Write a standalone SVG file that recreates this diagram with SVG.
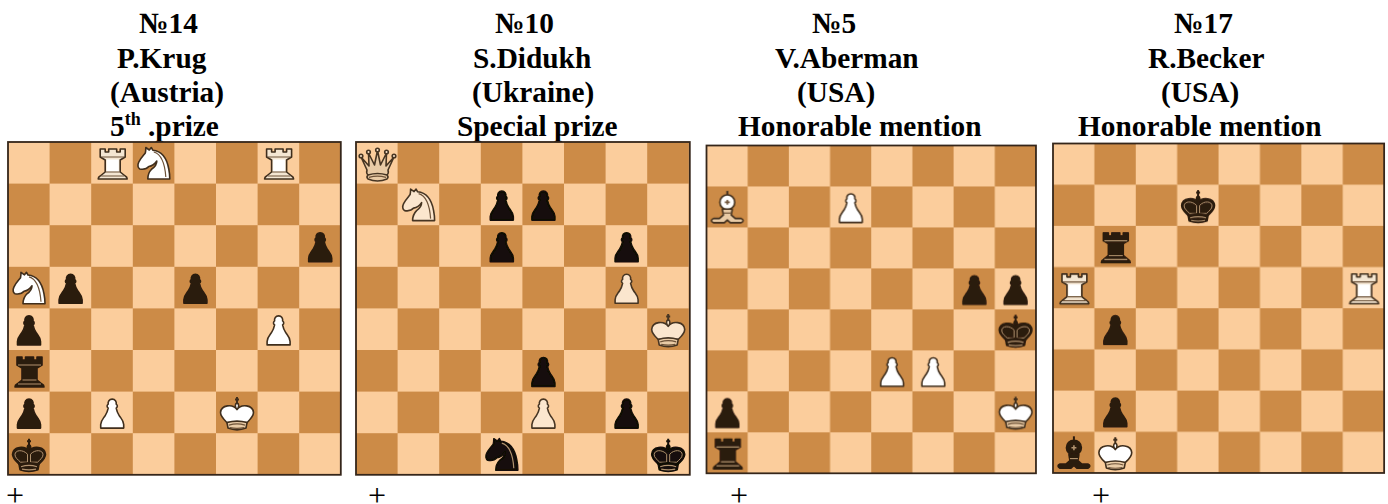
<svg xmlns="http://www.w3.org/2000/svg" width="1388" height="504" viewBox="0 0 1388 504">
<style>
.h{font-family:"Liberation Serif","Times New Roman",serif;font-weight:bold;font-size:29.33px;fill:#000}
.s{font-size:18px}
.plus{font-family:"Liberation Serif","Times New Roman",serif;font-size:32px;fill:#000}
.edge{fill:none;stroke:#35261a;stroke-width:1.8}
.w{--f:#fff;--r:#f4e6d2;--s:#3f2e1d;--d:#e9cba6;--l:#6d5238;--i:none}
.c{--f:#fbe6ce;--r:#fbe6ce;--s:#463524;--d:#e9cba6;--l:#6d5238;--i:none}
.b{--f:#2c1b0e;--r:#2c1b0e;--s:#2c1b0e;--d:#2c1b0e;--l:#b0926e;--i:#b0926e}
.k{--f:#120c07;--r:#120c07;--s:#120c07;--d:#120c07;--l:#b0926e;--i:#b0926e}
.p{fill:var(--f);stroke:var(--s);stroke-width:1.6;stroke-linejoin:round}
.q{fill:var(--r);stroke:var(--s);stroke-width:1.6;stroke-linejoin:round}
.a{fill:var(--d);stroke:var(--s);stroke-width:1.6;stroke-linejoin:round}
.t{fill:none;stroke:var(--l);stroke-width:1.2}
.i{fill:none;stroke:var(--i);stroke-width:1}
.pcs{filter:url(#soft)}
</style>
<defs>
<filter id="soft" x="-5%" y="-5%" width="110%" height="110%"><feGaussianBlur stdDeviation="0.35"/></filter>
<pattern id="chk" width="83.2" height="83.2" patternUnits="userSpaceOnUse">
<rect width="83.2" height="83.2" fill="#fbcd9c"/>
<rect x="41.6" width="41.6" height="41.6" fill="#cc8b47"/>
<rect y="41.6" width="41.6" height="41.6" fill="#cc8b47"/>
</pattern>
<g id="P"><path class="p" d="M21 7.500C24 7.500 25.500 10 25 12.500C26.500 13.500 26.500 15.500 25 16.500C25.500 19 26 21 28 24C30 27 32.500 29 32.500 33V36.500H9.500V33C9.500 29 12 27 14 24C16 21 16.500 19 17 16.500C15.500 15.500 15.500 13.500 17 12.500C16.500 10 18 7.500 21 7.500Z"/></g>
<g id="R"><path class="q" d="M9 7h5v3h3.500v-3h8v3h3.500v-3h5v8l-5 3v12l5 4q2 1 2 3h-29q0-2 2-3l5-4v-12l-5-3z"/><rect class="p" style="stroke:none" x="15.500" y="17.500" width="12" height="12"/><path class="t" d="M10 15h23M14.500 30h14M10 34h23"/></g>
<g id="N"><path class="p" d="M13 5.500L16.500 8L18.500 5.500L20 8.200C29 9 34 16 36 27C36.800 31 37 34 37 37H15C15 33 16 30 19 27C22 25 24 22 24 19C22 22 19 24 16 24.500C14 27 10 27.500 7 27C5 26 4.500 23 6 20C8 16 11 13 12.500 11C13 9 13 7 13 5.500Z"/><path class="t" d="M21 10C28 12 32 20 33 35"/></g>
<g id="K"><path class="t" style="stroke:var(--s);stroke-width:2" d="M21 5.500V12M19 8h4"/><path class="p" d="M21 11.500C23 12 23.500 15 21 18.500C18.500 15 19 12 21 11.500Z"/><path class="p" d="M21 18C17 12 5 13 4.500 21C4.500 25 8 28 11 31H31C34 28 37.500 25 37.500 21C37 13 25 12 21 18Z"/><path class="i" d="M19.500 21C15 16 7 16.500 7 21.500C7 24.500 10 26.500 12.500 29H19.500ZM22.500 21C27 16 35 16.500 35 21.500C35 24.500 32 26.500 29.500 29H22.500Z"/><path class="a" d="M11 31Q21 28 31 31L30 36.500Q21 40 12 36.500Z"/><path class="t" d="M13 33.500Q21 31 29 33.500M14 36Q21 37.500 28 36"/></g>
<g id="Q"><path class="a" d="M5 15L11 28Q10 31 12 33H31Q33 31 32 28L38 15L30 24L30.500 11L24.500 23L21.500 8.500L18.500 23L12.500 11L13 24Z"/><circle class="p" cx="5" cy="14" r="1.800"/><circle class="p" cx="12.500" cy="10" r="1.800"/><circle class="p" cx="21.500" cy="8" r="1.800"/><circle class="p" cx="30.500" cy="10" r="1.800"/><circle class="p" cx="38" cy="14" r="1.800"/><path class="a" d="M12 33Q21.500 30 31 33Q33 35 31 37Q21.500 41 12 37Q10 35 12 33Z"/><path class="t" d="M13 35.300Q21.500 33 30 35.300"/></g>
<g id="B"><path class="t" style="stroke:var(--s);stroke-width:2" d="M21 4.500V9"/><circle class="p" cx="21" cy="16" r="7.500"/><path class="a" d="M16 23H26L25 29L29 32.500H35Q39 34.500 35 36.800H24L21 34L18 36.800H7Q3 34.500 7 32.500H13L17 29Z"/><path class="t" d="M17 27H25"/><path class="t" style="stroke-width:1.600" d="M21 13.500V18.500M18.500 16H23.500"/></g>
</defs>

<g id="titles">
<text class="h" x="139" y="33">№14</text>
<text class="h" x="117" y="68">P.Krug</text>
<text class="h" x="110" y="102">(Austria)</text>
<text class="h" x="110" y="136">5<tspan class="s" dy="-11">th</tspan><tspan x="148" dy="11">.prize</tspan></text>
<text class="h" x="495" y="33">№10</text>
<text class="h" x="473" y="68">S.Didukh</text>
<text class="h" x="472" y="102">(Ukraine)</text>
<text class="h" x="457" y="136">Special prize</text>
<text class="h" x="812" y="33">№5</text>
<text class="h" x="775" y="68">V.Aberman</text>
<text class="h" x="797" y="102">(USA)</text>
<text class="h" x="738" y="136">Honorable mention</text>
<text class="h" x="1174" y="33">№17</text>
<text class="h" x="1148" y="68">R.Becker</text>
<text class="h" x="1161" y="102">(USA)</text>
<text class="h" x="1078" y="136">Honorable mention</text>
</g>

<g id="board-1" transform="translate(8 142)">
<rect width="332.800" height="332.800" fill="url(#chk)"/>
<rect class="edge" width="332.800" height="332.800"/>
<g class="pcs">
<use href="#R" class="w" x="83.200" y="0"/><use href="#N" class="w" x="124.800" y="0"/><use href="#R" class="w" x="249.600" y="0"/>
<use href="#P" class="b" x="291.200" y="83.200"/>
<use href="#N" class="w" x="0" y="124.800"/><use href="#P" class="b" x="41.600" y="124.800"/><use href="#P" class="b" x="166.400" y="124.800"/>
<use href="#P" class="b" x="0" y="166.400"/><use href="#P" class="w" x="249.600" y="166.400"/>
<use href="#R" class="b" x="0" y="208"/>
<use href="#P" class="b" x="0" y="249.600"/><use href="#P" class="w" x="83.200" y="249.600"/><use href="#K" class="w" x="208" y="249.600"/>
<use href="#K" class="b" x="0" y="291.200"/>
</g>
</g>

<g id="board-2" transform="translate(356 142)">
<rect width="333.800" height="332.800" fill="url(#chk)"/>
<rect class="edge" width="333.800" height="332.800"/>
<g class="pcs">
<use href="#Q" class="c" x="0" y="0"/>
<use href="#N" class="c" x="41.600" y="41.600"/><use href="#P" class="k" x="124.800" y="41.600"/><use href="#P" class="k" x="166.400" y="41.600"/>
<use href="#P" class="k" x="124.800" y="83.200"/><use href="#P" class="k" x="249.600" y="83.200"/>
<use href="#P" class="c" x="249.600" y="124.800"/>
<use href="#K" class="c" x="291.200" y="166.400"/>
<use href="#P" class="k" x="166.400" y="208"/>
<use href="#P" class="c" x="166.400" y="249.600"/><use href="#P" class="k" x="249.600" y="249.600"/>
<use href="#N" class="k" x="124.800" y="291.200"/><use href="#K" class="k" x="291.200" y="291.200"/>
</g>
</g>

<g id="board-3" transform="translate(706.500 145.500) scale(0.99 0.985)">
<rect width="332.800" height="332.800" fill="url(#chk)"/>
<rect class="edge" width="332.800" height="332.800"/>
<g class="pcs">
<use href="#B" class="w" x="0" y="41.600"/><use href="#P" class="w" x="124.800" y="41.600"/>
<use href="#P" class="b" x="249.600" y="124.800"/><use href="#P" class="b" x="291.200" y="124.800"/>
<use href="#K" class="b" x="291.200" y="166.400"/>
<use href="#P" class="w" x="166.400" y="208"/><use href="#P" class="w" x="208" y="208"/>
<use href="#P" class="b" x="0" y="249.600"/><use href="#K" class="w" x="291.200" y="249.600"/>
<use href="#R" class="b" x="0" y="291.200"/>
</g>
</g>

<g id="board-4" transform="translate(1053 143.500) scale(0.995 0.99)">
<rect width="332.800" height="332.800" fill="url(#chk)"/>
<rect class="edge" width="332.800" height="332.800"/>
<g class="pcs">
<use href="#K" class="b" x="124.800" y="41.600"/>
<use href="#R" class="b" x="41.600" y="83.200"/>
<use href="#R" class="w" x="0" y="124.800"/><use href="#R" class="w" x="291.200" y="124.800"/>
<use href="#P" class="b" x="41.600" y="166.400"/>
<use href="#P" class="b" x="41.600" y="249.600"/>
<use href="#B" class="b" x="0" y="291.200"/><use href="#K" class="w" x="41.600" y="291.200"/>
</g>
</g>

<g id="marks">
<text class="plus" x="6" y="506">+</text>
<text class="plus" x="368" y="506">+</text>
<text class="plus" x="730" y="506">+</text>
<text class="plus" x="1092" y="506">+</text>
</g>
</svg>
